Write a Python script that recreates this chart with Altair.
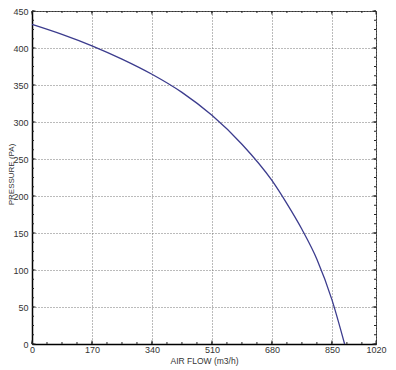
import altair as alt
import pandas as pd
import numpy as np

# ---- data ----
flow = [0, 85, 170, 255, 340, 425, 510, 595, 680, 722, 765, 808, 850, 886]
pressure = [432, 418.5, 403, 385, 364.5, 340, 309, 270, 221, 190, 155, 114, 60, 0]

x_major = [0, 170, 340, 510, 680, 850, 975]
x_labels = ["0", "170", "340", "510", "680", "850", "1020"]
y_major = [0, 50, 100, 150, 200, 250, 300, 350, 400, 450]
x_minor = list(np.arange(0, 975, 42.5))
y_minor = list(np.arange(0, 451, 12.5))

W, H = 344, 333
FONT = "Liberation Sans"
LINE_COLOR = "#3c3c8e"
TICK_COLOR = "#222"

curve = pd.DataFrame({"flow": flow, "pressure": pressure})
xmaj_df = pd.DataFrame({"flow": x_major})
xmin_df = pd.DataFrame({"flow": x_minor})
ymaj_df = pd.DataFrame({"pressure": y_major})
ymin_df = pd.DataFrame({"pressure": y_minor})

xs = alt.Scale(domain=[0, 975], nice=False, zero=False)
ys = alt.Scale(domain=[0, 450], nice=False)

label_expr = " : ".join(
    f"datum.value == {v} ? '{l}'" for v, l in zip(x_major, x_labels)
) + " : ''"

x_axis = alt.Axis(
    values=x_major, labelExpr=label_expr, grid=True, gridDash=[1, 2],
    gridColor="#777", gridWidth=1, ticks=False, tickSize=0,
    domain=True, domainColor="#000", domainWidth=1.5,
    labelFont=FONT, labelFontSize=9, labelColor="#333", labelPadding=1.5,
    labelFlush=False, labelBaseline="top",
    title="AIR FLOW (m3/h)", titleFont=FONT, titleFontSize=8.5,
    titleFontWeight="normal", titleColor="#333",
    titleX=172, titleY=19, titleBaseline="alphabetic", titleAlign="center",
)
y_axis = alt.Axis(
    values=y_major, grid=True, gridDash=[1, 2], gridColor="#777", gridWidth=1,
    ticks=False, tickSize=0, domain=True, domainColor="#000", domainWidth=1.5,
    labelFont=FONT, labelFontSize=9, labelColor="#333", labelPadding=4,
    labelFlush=False,
    title="PRESSURE (PA)", titleFont=FONT, titleFontSize=8,
    titleFontWeight="normal", titleColor="#333", titleAngle=270,
    titleX=-21, titleY=163, titleBaseline="middle", titleAlign="center",
)

X = alt.X("flow:Q", scale=xs, axis=x_axis)
Y = alt.Y("pressure:Q", scale=ys, axis=y_axis)

line = alt.Chart(curve).mark_line(
    color=LINE_COLOR, strokeWidth=1.3, interpolate="monotone"
).encode(x=X, y=Y)


def xticks(df, length):
    bottom = alt.Chart(df).mark_rule(color=TICK_COLOR, strokeWidth=1).encode(
        x=X, y=alt.value(H), y2=alt.value(H - length),
    )
    top = alt.Chart(df).mark_rule(color=TICK_COLOR, strokeWidth=1).encode(
        x=X, y=alt.value(0), y2=alt.value(length),
    )
    return [bottom, top]


def yticks(df, length):
    left = alt.Chart(df).mark_rule(color=TICK_COLOR, strokeWidth=1).encode(
        y=Y, x=alt.value(0), x2=alt.value(length),
    )
    right = alt.Chart(df).mark_rule(color=TICK_COLOR, strokeWidth=1).encode(
        y=Y, x=alt.value(W), x2=alt.value(W - length),
    )
    return [left, right]


layers = [line] + xticks(xmin_df, 2) + xticks(xmaj_df, 3.5) + yticks(ymin_df, 2) + yticks(ymaj_df, 3.5)

chart = alt.layer(*layers).properties(
    width=W, height=H,
    autosize=alt.AutoSizeParams(type="none"),
    padding={"left": 24, "top": 3, "right": 12, "bottom": 22},
    background="white",
).configure_view(stroke="#333", strokeWidth=1)

chart.save("out.html", embed_options={"renderer": "svg", "actions": False})
